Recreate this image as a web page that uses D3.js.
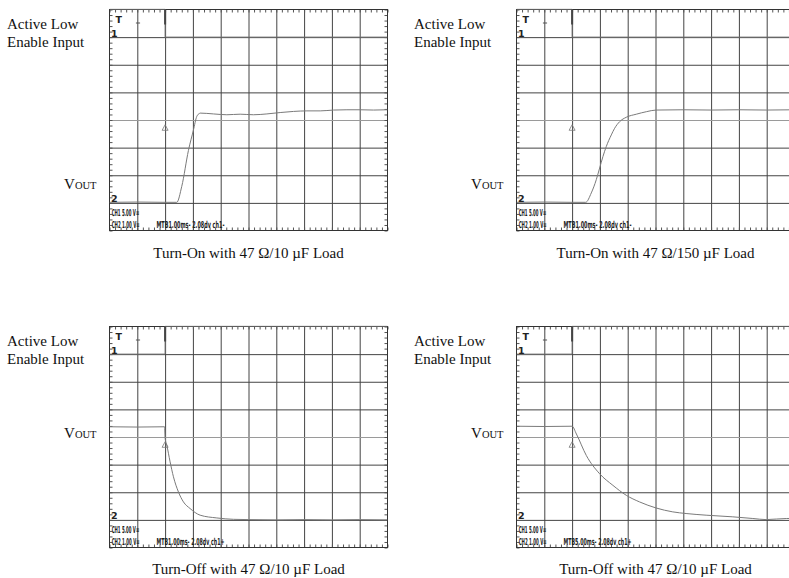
<!DOCTYPE html>
<html>
<head>
<meta charset="utf-8">
<script src="https://cdn.jsdelivr.net/npm/d3@7"></script>
<style>
  body { margin: 0; background: #fff; }
  .lbl { font-family: "Liberation Serif", "Times New Roman", serif; font-size: 15px; fill: #111; }
  .ro { font-family: "DejaVu Sans", sans-serif; font-weight: bold; font-size: 9.5px; fill: #222; }
</style>
</head>
<body>
<script>
// captions and scope readouts
const captions = ["Turn-On with 47 Ω/10 µF Load", "Turn-On with 47 Ω/150 µF Load",
                  "Turn-Off with 47 Ω/10 µF Load", "Turn-Off with 47 Ω/10 µF Load"];
const msPerDiv = [1, 1, 1, 5];
const ch1Readout = "CH1 5.00 V=";
const ch2Readout = "CH2 1.00 V=";
const timeReadouts = ["MTB1.00ms- 2.08dv ch1-", "MTB1.00ms- 2.08dv ch1-",
                      "MTB1.00ms- 2.08dv ch1+", "MTB5.00ms- 2.08dv ch1+"];
const triggerLevel = [2.7, 2.7, 2.7, 2.7];   // V on ch2

// enable input (ch1, volts) vs time (ms)
const enOnT  = [-2, 0, 0, 8];
const enOnV  = [5.05, 5.05, 0, 0];
const enOffT = [-2, 0, 0, 8];
const enOffV = [0, 0, 5.05, 5.05];
const enOff5T = [-10, 0, 0, 40];

// Vout (ch2, volts) vs time (ms)
const on10T = [-2, -1, 0, 0.42, 0.6, 0.84, 1.02, 1.14, 1.24, 1.26, 1.74, 2.22, 2.7, 3.18, 3.66, 4.14, 4.62, 5.1, 5.58, 6.06, 6.54, 7.02, 7.5, 8];
const on10V = [0.02, 0.03, 0.02, 0.02, 0.6, 1.9, 2.64, 3.13, 3.24, 3.25, 3.22, 3.19, 3.21, 3.19, 3.22, 3.27, 3.31, 3.33, 3.33, 3.36, 3.37, 3.37, 3.36, 3.37];
const on150T = [-2, -1, 0, 0.49, 0.69, 0.87, 0.99, 1.11, 1.23, 1.41, 1.53, 1.71, 1.95, 2.31, 2.67, 3.02, 4, 5, 6, 7, 8];
const on150V = [0.02, 0.03, 0.02, 0.02, 0.36, 0.84, 1.26, 1.68, 2.04, 2.46, 2.7, 2.94, 3.1, 3.21, 3.3, 3.36, 3.37, 3.36, 3.37, 3.36, 3.37];
const off10T = [-2, -1, -0.02, 0, 0.06, 0.18, 0.3, 0.48, 0.66, 0.9, 1.26, 1.86, 2.46, 3, 4, 5, 6, 7, 8];
const off10V = [3.37, 3.36, 3.37, 2.95, 2.71, 2.1, 1.56, 1.01, 0.65, 0.41, 0.17, 0.07, 0.02, 0.01, 0, 0.01, 0, 0.01, 0];
const off5T = [-10, -5, 0, 0.77, 2.56, 4.95, 7.34, 9.74, 12.13, 15.12, 18.1, 20.5, 24.1, 28.9, 32.5, 34.9, 38.6, 40];
const off5V = [3.39, 3.38, 3.39, 3.11, 2.33, 1.67, 1.25, 0.89, 0.65, 0.43, 0.29, 0.23, 0.17, 0.11, 0.05, 0.01, 0.05, 0.05];

const panels = [
  { en: [enOnT, enOnV], out: [on10T, on10V] },
  { en: [enOnT, enOnV], out: [on150T, on150V] },
  { en: [enOffT, enOffV], out: [off10T, off10V] },
  { en: [enOff5T, enOffV], out: [off5T, off5V] }
];

const W = 278, H = 221;
const lefts = [109.5, 516.5, 109.5, 516.5];
const tops = [9.5, 9.5, 326.5, 326.5];
const voutY = [189, 189, 438, 438];
const captionY = [258, 258, 574, 574];

const svg = d3.select("body").append("svg")
    .attr("width", 789)
    .attr("height", 578);

// squeeze scope readout text to the width it has on the screen
function readout(g, str, px, py, w) {
    const t = g.append("text").attr("class", "ro").text(str);
    const n = t.node().getComputedTextLength();
    t.attr("transform", `translate(${px},${py}) scale(${w / n},1)`);
    return t;
}

panels.forEach(function(p, i) {
    const g = svg.append("g").attr("transform", `translate(${lefts[i]},${tops[i]})`);
    const tdiv = msPerDiv[i];

    const xDiv = d3.scaleLinear().domain([0, 10]).range([0, W]);
    const yDiv = d3.scaleLinear().domain([0, 8]).range([H, 0]);
    const x = d3.scaleLinear().domain([-2 * tdiv, 8 * tdiv]).range([0, W]);
    const y1 = d3.scaleLinear().domain([-35, 5]).range([H, 0]);  // ch1 5V/div, ground 7 div up
    const y2 = d3.scaleLinear().domain([-1, 7]).range([H, 0]);   // ch2 1V/div, ground 1 div up

    g.append("clipPath").attr("id", `clip${i}`)
        .append("rect").attr("width", W).attr("height", H + 1).attr("y", -1);

    // graticule
    g.append("g")
        .attr("class", "grid")
        .attr("transform", `translate(0,${H})`)
        .call(d3.axisBottom(xDiv).tickValues(d3.range(1, 10)).tickSize(-H).tickFormat(""));
    g.append("g")
        .attr("class", "grid hz")
        .call(d3.axisLeft(yDiv).tickValues(d3.range(1, 8)).tickSize(-W).tickFormat(""));
    const minor = d3.range(0, 10.01, 0.2);
    const minorY = d3.range(0, 8.01, 0.2);
    g.append("g").attr("class", "mt").call(d3.axisTop(xDiv).tickValues(minor).tickSize(-3).tickFormat(""));
    g.append("g").attr("class", "mt").attr("transform", `translate(0,${H})`)
        .call(d3.axisBottom(xDiv).tickValues(minor).tickSize(-3).tickFormat(""));
    g.append("g").attr("class", "mt").call(d3.axisLeft(yDiv).tickValues(minorY).tickSize(-3).tickFormat(""));
    g.append("g").attr("class", "mt").attr("transform", `translate(${W},0)`)
        .call(d3.axisRight(yDiv).tickValues(minorY).tickSize(-3).tickFormat(""));
    g.selectAll(".grid .domain, .mt .domain").remove();
    g.selectAll(".grid line").attr("stroke", "#444").attr("stroke-width", 1);
    g.selectAll(".hz .tick").filter(function(d) { return d === 4; }).select("line")
        .attr("stroke", "#9a9a9a");
    g.selectAll(".mt line").attr("stroke", "#555");
    g.append("rect").attr("width", W).attr("height", H)
        .attr("fill", "none").attr("stroke", "#333");

    // traces
    const traces = g.append("g").attr("clip-path", `url(#clip${i})`);
    const enPts = p.en[0].map(function(t, k) { return [t, p.en[1][k]]; });
    const outPts = p.out[0].map(function(t, k) { return [t, p.out[1][k]]; });
    traces.append("path")
        .attr("fill", "none").attr("stroke", "#6f6f6f").attr("stroke-width", 1)
        .attr("d", d3.line().x(function(d) { return x(d[0]); }).y(function(d) { return y1(d[1]); })(enPts));
    traces.append("path")
        .attr("fill", "none").attr("stroke", "#7a7a7a").attr("stroke-width", 1)
        .attr("d", d3.line().curve(d3.curveMonotoneX)
            .x(function(d) { return x(d[0]); }).y(function(d) { return y2(d[1]); })(outPts));

    // trigger position and level markers
    g.append("line").attr("x1", x(0)).attr("x2", x(0)).attr("y1", 0).attr("y2", 15)
        .attr("stroke", "#444").attr("stroke-width", 2);
    const tx = x(0), ty = y2(triggerLevel[i]);
    g.append("path")
        .attr("d", `M${tx},${ty - 3.5}L${tx + 3},${ty + 2}L${tx - 3},${ty + 2}Z`)
        .attr("fill", "none").attr("stroke", "#777").attr("stroke-width", 0.8);
    g.append("line").attr("x1", xDiv(0.95)).attr("x2", xDiv(1.1)).attr("y1", 13.5).attr("y2", 13.5)
        .attr("stroke", "#555");

    // channel markers
    g.append("text").attr("class", "ro").attr("x", 6).attr("y", 13).text("T");
    g.append("text").attr("class", "ro").attr("x", 1.5).attr("y", y1(0)).text("1");
    g.append("text").attr("class", "ro").attr("x", 1.5).attr("y", y2(0) - 0.5).text("2");

    // readouts
    readout(g, ch1Readout, 2.2, H - 15, 27.5);
    readout(g, ch2Readout, 2.2, H - 2.2, 28);
    readout(g, timeReadouts[i], 47, H - 2.2, 68);

    // side labels
    svg.append("text").attr("class", "lbl").attr("x", lefts[i] - 102.5).attr("y", tops[i] + 19.5).text("Active Low");
    svg.append("text").attr("class", "lbl").attr("x", lefts[i] - 102.5).attr("y", tops[i] + 37).text("Enable Input");
    const v = svg.append("text").attr("class", "lbl").attr("x", lefts[i] - 13).attr("y", voutY[i])
        .attr("text-anchor", "end");
    v.append("tspan").text("V");
    v.append("tspan").style("font-size", "10.5px").text("OUT");

    svg.append("text").attr("class", "lbl").attr("x", lefts[i] + W / 2).attr("y", captionY[i])
        .attr("text-anchor", "middle").text(captions[i]);
});
</script>
</body>
</html>
